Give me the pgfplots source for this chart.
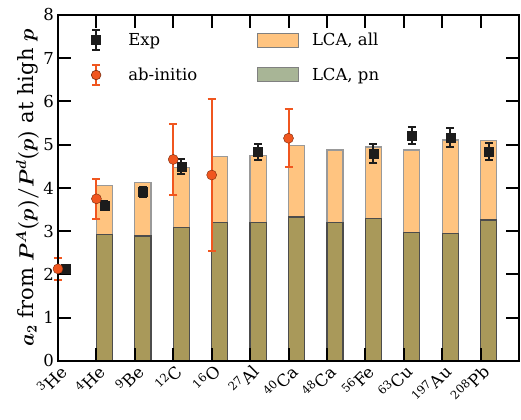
\documentclass[border=0pt]{standalone}
\usepackage{bm}
\usepackage{fontspec}
\setmainfont{DejaVu Serif}
\usepackage{pgfplots}
\pgfplotsset{compat=1.18}
\definecolor{lcaall}{RGB}{255,196,128}
\definecolor{lcapn}{RGB}{169,153,90}
\definecolor{lcapnleg}{RGB}{168,181,150}
\definecolor{abin}{RGB}{240,86,31}
\definecolor{abinedge}{RGB}{120,40,10}
\definecolor{expc}{RGB}{28,28,28}
\pgfplotstableread{
x y e
0.21 2.13 0.04
1.21 3.60 0.10
2.21 3.91 0.12
3.21 4.49 0.17
5.21 4.83 0.18
8.21 4.80 0.22
9.21 5.21 0.20
10.21 5.16 0.22
11.21 4.84 0.20
}\expdata
\pgfplotstableread{
x y e
0 2.13 0.25
1 3.75 0.46
3 4.66 0.82
4 4.30 1.75
6 5.15 0.67
}\abdata
\pgfplotstableread{
x all pn
1.21 4.05 2.93
2.21 4.13 2.89
3.21 4.47 3.08
4.21 4.72 3.21
5.21 4.75 3.21
6.21 4.98 3.33
7.21 4.88 3.21
8.21 4.95 3.30
9.21 4.88 2.98
10.21 5.11 2.94
11.21 5.09 3.26
}\lcadata
\begin{document}
\begin{tikzpicture}
\begin{axis}[
  name=ax,
  scale only axis, width=461bp, height=346bp,
  xmin=0, xmax=12, ymin=0, ymax=8,
  xtick={0,1,2,3,4,5,6,7,8,9,10,11},
  xticklabels={\textsuperscript{3}He,\textsuperscript{4}He,\textsuperscript{9}Be,\textsuperscript{12}C,\textsuperscript{16}O,\textsuperscript{27}Al,\textsuperscript{40}Ca,\textsuperscript{48}Ca,\textsuperscript{56}Fe,\textsuperscript{63}Cu,\textsuperscript{197}Au,\textsuperscript{208}Pb},
  ytick={0,1,2,3,4,5,6,7,8},
  axis on top,
  tick align=inside,
  major tick length=13bp,
  tick style={draw=black, line width=2bp},
  axis line style={line width=2bp},
  /pgf/number format/assume math mode=true,
  tick label style={font=\fontsize{16.5bp}{19bp}\selectfont},
  xticklabel style={rotate=45, anchor=north east, inner sep=1pt},
  yticklabel style={inner sep=4pt},
  ylabel={$\bm{a_2}$ from $\bm{P^A(p)/P^d(p)}$ at high $\bm{p}$},
  ylabel style={font=\fontsize{21bp}{25bp}\selectfont, yshift=-3bp},
  clip=false,
  legend columns=2, transpose legend,
  legend style={draw=none, fill=none, at={(0.045,0.965)}, anchor=north west,
    font=\fontsize{16.5bp}{19bp}\selectfont,
    row sep=13bp, /tikz/every even column/.append style={column sep=58bp}},
  legend cell align=left,
]
\addplot[ybar, bar width=0.42, bar shift=0pt, fill=lcaall, draw=gray!80, line width=1.2pt, forget plot] table[x=x, y=all] {\lcadata};
\addplot[ybar, bar width=0.42, bar shift=0pt, fill=lcapn, draw=gray!60!black, line width=1.2pt, forget plot] table[x=x, y=pn] {\lcadata};
\addplot[only marks, mark=square*, mark size=4.5bp, color=expc, forget plot,
  error bars/.cd, y dir=both, y explicit,
  error bar style={line width=2bp, color=expc},
  error mark options={rotate=90, mark size=4bp, line width=2bp, color=expc}]
  table[x=x, y=y, y error=e] {\expdata};
\addplot[only marks, mark=*, mark size=5bp, color=abin, mark options={fill=abin, draw=abinedge}, forget plot,
  error bars/.cd, y dir=both, y explicit,
  error bar style={line width=2bp, color=abin},
  error mark options={rotate=90, mark size=4bp, line width=2bp, color=abin}]
  table[x=x, y=y, y error=e] {\abdata};
\pgfplotsinvokeforeach{1,2,3,4,5,6,7,8,9,10,11}{
  \draw[line width=2bp, black] (axis cs:#1,0) -- ++(0bp,13bp);
  \draw[line width=2bp, black] (axis cs:#1,8) -- ++(0bp,-13bp);
}
\pgfplotsinvokeforeach{1,2,3,4,5,6,7}{
  \draw[line width=2bp, black] (axis cs:0,#1) -- ++(13bp,0bp);
  \draw[line width=2bp, black] (axis cs:12,#1) -- ++(-13bp,0bp);
}
\addlegendimage{legend image code/.code={
  \path (0bp,0bp) (44bp,0bp);
  \draw[expc, line width=1.8bp] (14bp,-10bp)--(14bp,10bp) (10bp,-10bp)--(18bp,-10bp) (10bp,10bp)--(18bp,10bp);
  \fill[expc] (14bp,0bp) ++(-4.5bp,-4.5bp) rectangle ++(9bp,9bp);}}
\addlegendentry{Exp}
\addlegendimage{legend image code/.code={
  \path (0bp,0bp) (44bp,0bp);
  \draw[abin, line width=1.8bp] (14bp,-10bp)--(14bp,10bp) (10bp,-10bp)--(18bp,-10bp) (10bp,10bp)--(18bp,10bp);
  \filldraw[fill=abin, draw=abinedge, line width=0.6pt] (14bp,0bp) circle (4.8bp);}}
\addlegendentry{ab-initio}
\addlegendimage{legend image code/.code={
  \path (0bp,0bp) (52bp,0bp);
  \filldraw[fill=lcaall, draw=gray, line width=1pt] (0bp,-7bp) rectangle (41bp,7bp);}}
\addlegendentry{LCA, all}
\addlegendimage{legend image code/.code={
  \path (0bp,0bp) (52bp,0bp);
  \filldraw[fill=lcapnleg, draw=gray, line width=1pt] (0bp,-7bp) rectangle (41bp,7bp);}}
\addlegendentry{LCA, pn}
\end{axis}
\pgfresetboundingbox
\path ([shift={(-58bp,-59bp)}]ax.south west) rectangle ([shift={(2bp,15bp)}]ax.north east);
\end{tikzpicture}
\end{document}
